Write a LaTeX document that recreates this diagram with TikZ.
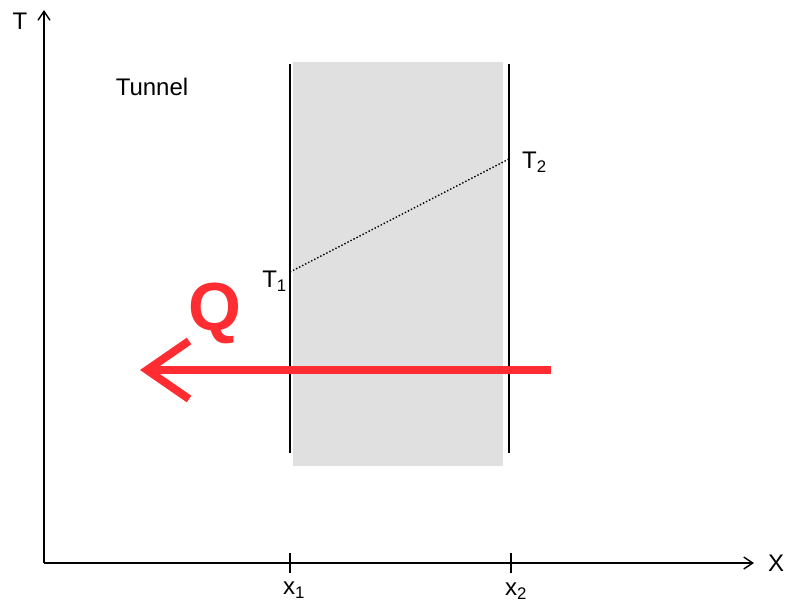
\documentclass[tikz,border=0pt]{standalone}
\usepackage{fontspec}
\setmainfont{Liberation Sans}
\usetikzlibrary{arrows.meta}
\definecolor{qred}{RGB}{255,45,50}
\definecolor{band}{RGB}{224,224,224}
\tikzset{
  axis/.style={line width=1.4pt, -{Straight Barb[length=9pt,width=12pt,line width=1.4pt]}},
  wall/.style={line width=1.6pt},
  tick/.style={line width=1.4pt},
  lbl/.style={font=\fontsize{24}{28}\selectfont, inner sep=0pt},
}
\begin{document}
\begin{tikzpicture}[x=1pt,y=-1pt]
\useasboundingbox (0,0) rectangle (788,603);
\fill[band] (293,62) rectangle (503,466);
% axes
\coordinate (O) at (44,563);
\coordinate (Ytop) at (44,10);
\coordinate (Xend) at (754,563);
\draw[axis] (O) -- (Ytop);
\draw[axis] (O) -- (Xend);
\node[lbl] (T) at (20,21) {T};
\node[lbl] (X) at (776,563) {X};
% walls
\coordinate (w1t) at (290,64);
\coordinate (w1b) at (290,453);
\coordinate (w2t) at (509,64);
\coordinate (w2b) at (509,453);
\draw[wall] (w1t) -- (w1b);
\draw[wall] (w2t) -- (w2b);
% temperatures
\coordinate (p1) at (290,272);
\coordinate (p2) at (509,159);
\draw[line width=1.4pt, dotted] (p1) -- (p2);
\node[lbl, anchor=east] (T1) at (287,281) {T\textsubscript{1}};
\node[lbl, anchor=west] (T2) at (522,162) {T\textsubscript{2}};
% ticks
\coordinate (k1t) at (290,553);
\coordinate (k1b) at (290,573);
\coordinate (k2t) at (511,553);
\coordinate (k2b) at (511,573);
\draw[tick] (k1t) -- (k1b);
\draw[tick] (k2t) -- (k2b);
\node[lbl] (x1) at (294,590) {x\textsubscript{1}};
\node[lbl] (x2) at (516,591) {x\textsubscript{2}};
% labels
\node[lbl] (tun) at (152,87) {Tunnel};
\node[font=\bfseries\fontsize{68}{72}\selectfont, text=qred, inner sep=0pt] (Q) at (215,313) {Q};
% heat flow arrow
\coordinate (qs) at (551,370);
\coordinate (qe) at (140,370);
\draw[qred, line width=8pt, -{Straight Barb[length=42pt,width=58pt,line width=8pt]}] (qs) -- (qe);
\end{tikzpicture}
\end{document}
